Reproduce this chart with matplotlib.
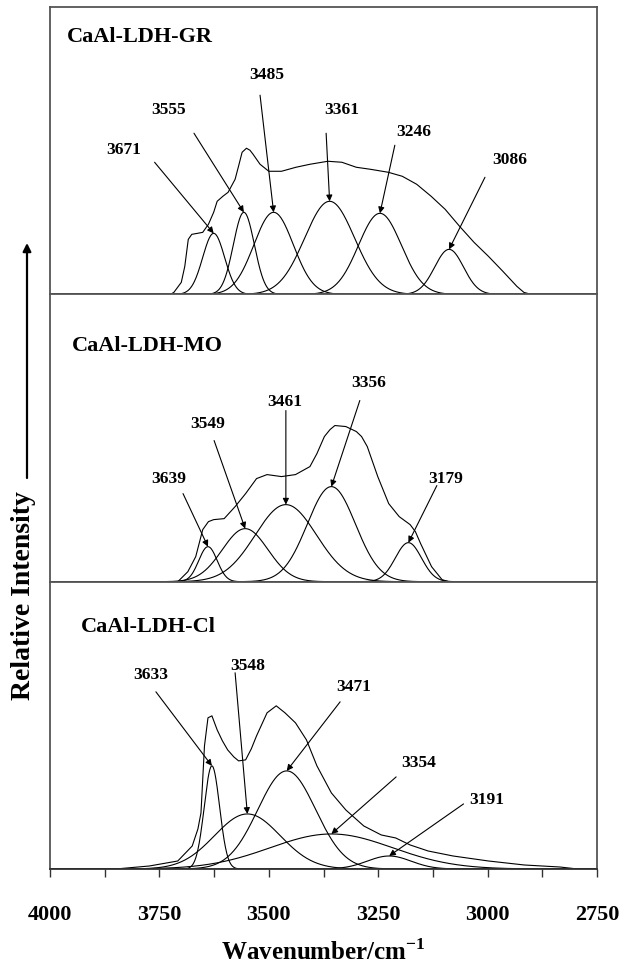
import numpy as np
import matplotlib
matplotlib.use('Agg')
import matplotlib.pyplot as plt
from matplotlib.patches import FancyArrowPatch

plt.rcParams['font.family'] = ['Liberation Serif', 'DejaVu Serif']
plt.rcParams['mathtext.fontset'] = 'custom'
plt.rcParams['mathtext.rm'] = 'Liberation Serif'
plt.rcParams['mathtext.bf'] = 'Liberation Serif:bold'

# ---- data (intensity in arbitrary units, panel top = 287) ----
sample_names = ['CaAl-LDH-GR', 'CaAl-LDH-MO', 'CaAl-LDH-Cl']

# fitted components: centre (cm-1), height, sigma (cm-1)
gr_labels = ['3671', '3555', '3485', '3361', '3246', '3086']
gr_centers = [3626, 3557, 3489, 3361, 3246, 3088]
gr_heights = [61, 82, 82, 93, 81, 45]
gr_sigmas = [25, 24, 45, 57, 49, 33]

mo_labels = ['3639', '3549', '3461', '3356', '3179']
mo_centers = [3639, 3554, 3461, 3357, 3181]
mo_heights = [35, 53, 77, 95, 39]
mo_sigmas = [21, 52, 70, 55, 30]

cl_labels = ['3633', '3548', '3471', '3354', '3191']
cl_centers = [3630, 3549, 3459, 3357, 3225]
cl_heights = [103, 55, 98, 35, 13]
cl_sigmas = [17.5, 75, 66, 140, 50]

# measured envelopes
gr_env_w = [4000, 3725, 3717, 3700, 3692, 3684, 3676, 3663, 3651, 3638, 3626, 3618, 3605,
            3593, 3577, 3568, 3561, 3551, 3543, 3536, 3520, 3500, 3471, 3438, 3406, 3365,
            3333, 3300, 3268, 3227, 3195, 3162, 3129, 3097, 3064, 3031, 2998, 2965, 2933,
            2917, 2900, 2750]
gr_env_i = [0, 0, 2, 12, 28, 55, 60, 61, 62, 70, 82, 93, 98,
            102, 115, 130, 142, 146, 144, 140, 130, 123, 123, 127, 130, 133,
            132, 127, 125, 122, 118, 110, 98, 85, 68, 52, 38, 23, 8,
            2, 0, 0]

mo_env_w = [4000, 3708, 3685, 3667, 3651, 3638, 3626, 3602, 3577, 3553, 3528, 3504, 3471,
            3439, 3406, 3390, 3373, 3360, 3349, 3324, 3300, 3288, 3275, 3251, 3226, 3202,
            3177, 3165, 3153, 3128, 3104, 3088, 2750]
mo_env_i = [0, 0, 10, 25, 52, 60, 62, 63, 75, 88, 103, 107, 105,
            107, 115, 128, 145, 152, 156, 155, 150, 145, 135, 105, 78, 65,
            57, 50, 38, 15, 2, 0, 0]

cl_env_w = [4000, 3850, 3773, 3708, 3675, 3662, 3655, 3647, 3639, 3630, 3618, 3606, 3594,
            3580, 3569, 3553, 3540, 3528, 3504, 3483, 3463, 3439, 3414, 3390, 3357, 3324,
            3283, 3243, 3210, 3177, 3136, 3079, 2998, 2916, 2835, 2794, 2750]
cl_env_i = [0, 0, 3, 8, 23, 40, 56, 123, 151, 153, 139, 128, 119,
            112, 108, 109, 120, 133, 156, 163, 156, 146, 129, 103, 76, 59,
            43, 34, 31, 24, 18, 13, 8, 4, 2, 0, 0]

x_ticks = [4000, 3750, 3500, 3250, 3000, 2750]

# ---- layout (annotation text / arrow tails, in data coords) ----
gr_text = [(3831, 144), (3728, 184), (3504, 219), (3333, 184), (3169, 162), (2949, 134)]
gr_tail = [(3761, 132), (3671, 161), (3520, 199), (3369, 161), (3212, 149), (3006, 117)]
mo_text = [(3728, 103), (3639, 158), (3463, 180), (3271, 198), (3095, 103)]
mo_tail = [(3696, 88), (3625, 141), (3461, 171), (3292, 181), (3116, 96)]
cl_text = [(3769, 194), (3549, 203), (3306, 182), (3157, 106), (3001, 69)]
cl_tail = [(3758, 177), (3577, 196), (3337, 167), (3209, 92), (3055, 65)]
title_pos = [(3961, 257), (3949, 235), (3929, 242)]

panels = [
    (gr_labels, gr_centers, gr_heights, gr_sigmas, gr_env_w, gr_env_i, gr_text, gr_tail),
    (mo_labels, mo_centers, mo_heights, mo_sigmas, mo_env_w, mo_env_i, mo_text, mo_tail),
    (cl_labels, cl_centers, cl_heights, cl_sigmas, cl_env_w, cl_env_i, cl_text, cl_tail),
]

fig = plt.figure(figsize=(6.22, 9.65), dpi=100)
left, width = 50 / 622, 547 / 622
panel_h = 287.3 / 965
bottom0 = 96 / 965

wn = np.linspace(4000, 2750, 1251)
frame_col = '#555555'

for k, (labels, centers, heights, sigmas, env_w, env_i, txt, tail) in enumerate(panels):
    ax = fig.add_axes([left, bottom0 + (2 - k) * panel_h, width, panel_h])
    for c, h, s in zip(centers, heights, sigmas):
        ax.plot(wn, h * np.exp(-0.5 * ((wn - c) / s) ** 2), color='black', lw=0.8)
    ax.plot(env_w, env_i, color='black', lw=0.8)

    for lab, c, h, (tx, ty), (ax_, ay) in zip(labels, centers, heights, txt, tail):
        ax.text(tx, ty, lab, ha='center', va='center', fontsize=12.5, fontweight='bold')
        ax.annotate('', xy=(c, h), xytext=(ax_, ay),
                    arrowprops=dict(arrowstyle='-|>', color='black', lw=0.8,
                                    mutation_scale=9, shrinkA=0, shrinkB=0))

    tx, ty = title_pos[k]
    ax.text(tx, ty, sample_names[k], ha='left', va='center', fontsize=16, fontweight='bold')

    ax.set_xlim(4000, 2750)
    ax.set_ylim(0, 287)
    ax.set_yticks([])
    for sp in ax.spines.values():
        sp.set_color(frame_col)
        sp.set_linewidth(1.3)
    ax.spines['bottom'].set_color('#333333')
    if k < 2:
        ax.set_xticks([])
    else:
        ax.set_xticks(x_ticks)
        ax.set_xticks(np.arange(2875, 4000, 250), minor=True)
        ax.tick_params(axis='x', which='both', direction='out', length=6, width=1,
                       color='#333333', labelsize=16, pad=20)
        for t in ax.get_xticklabels():
            t.set_fontweight('bold')
        ax.set_xlabel(r'Wavenumber/cm$^{\mathbf{-1}}$', fontsize=18, fontweight='bold', labelpad=10)

fig.text(24 / 622, 1 - 596 / 965, 'Relative Intensity', rotation=90, ha='center', va='center',
         fontsize=20, fontweight='bold')
fig.add_artist(FancyArrowPatch((27 / 622, 1 - 478 / 965), (27 / 622, 1 - 243 / 965),
                               transform=fig.transFigure, arrowstyle='-|>', mutation_scale=12,
                               color='black', lw=1.6, shrinkA=0, shrinkB=0))

fig.savefig('out.png', dpi=100)
